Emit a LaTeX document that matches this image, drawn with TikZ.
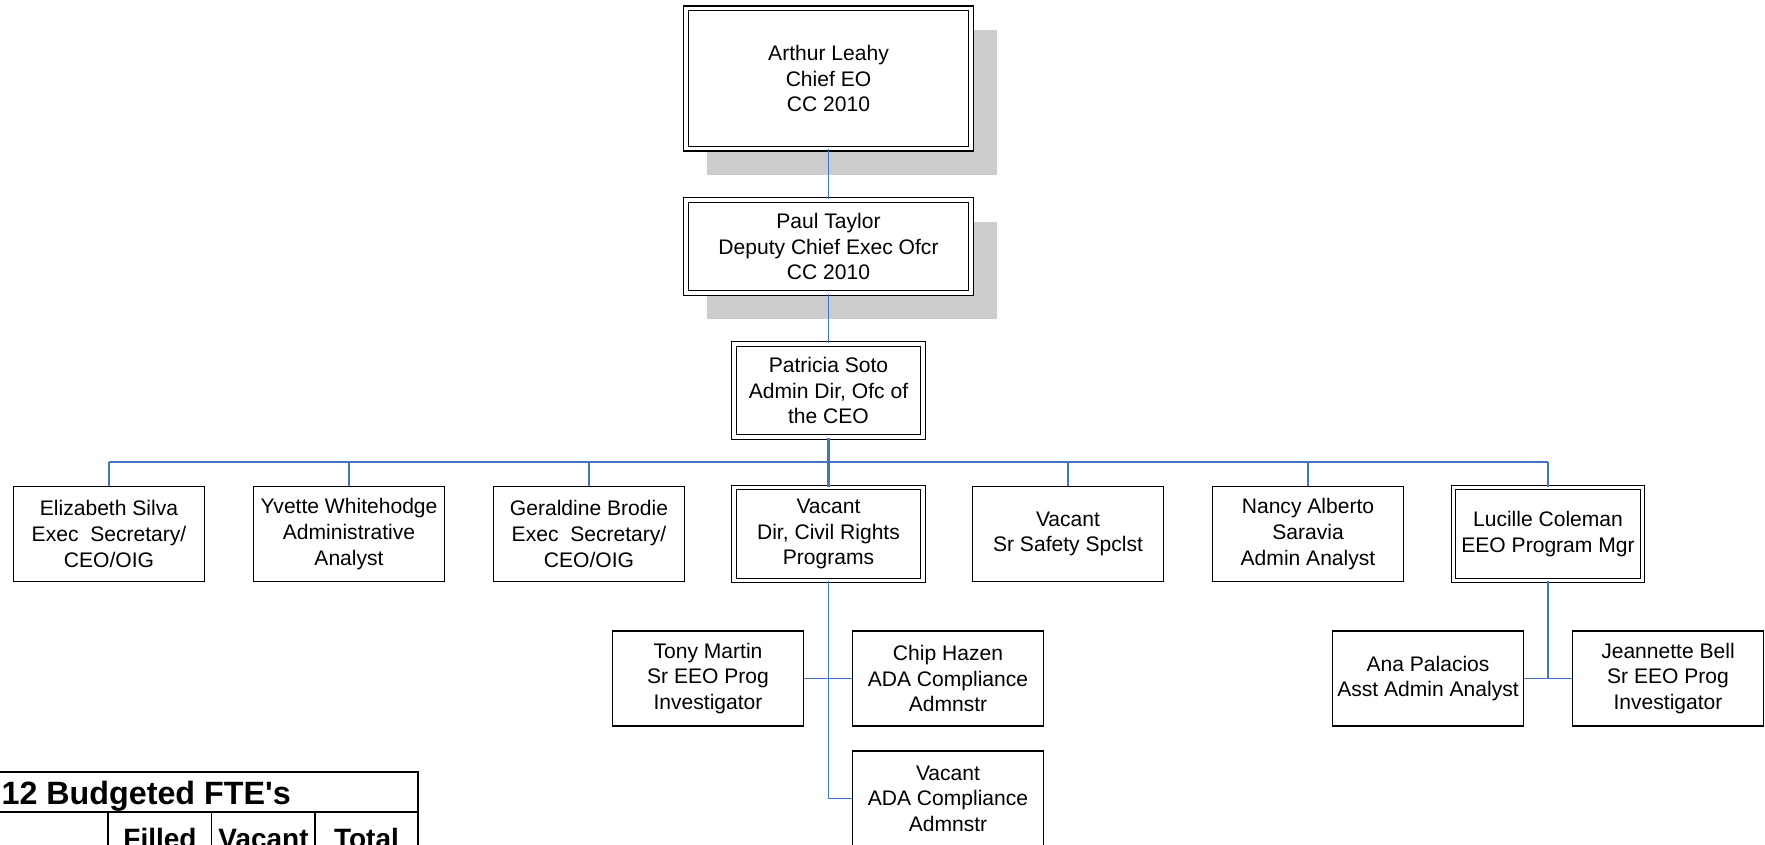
\documentclass[tikz,border=0pt]{standalone}
\usepackage{fontspec}
\setmainfont{Liberation Sans}
\newfontfamily\plainsans{Liberation Sans}
\definecolor{connblue}{RGB}{68,114,196}
\definecolor{shadowgray}{RGB}{204,204,204}
\begin{document}
\begin{tikzpicture}[x=0.75pt,y=-0.75pt,
  box/.style={draw=black, line width=1pt, fill=white, align=center, inner sep=0pt,
    font=\fontsize{15.8}{19.2}\selectfont, minimum width=143.25pt, minimum height=71.25pt},
  dbox/.style={box, double=white, double distance=2.3pt, line width=0.9pt,
    minimum width=141.75pt, minimum height=69.75pt},
  conn/.style={draw=connblue, line width=1pt},
  busline/.style={draw=connblue, line width=1.7pt},
  shadowbox/.style={fill=shadowgray, draw=none},
  tabline/.style={draw=black, line width=1.3pt},
  tabhead/.style={inner sep=0pt, font=\bfseries\fontsize{21}{24}\selectfont},
  tabtitle/.style={inner sep=0pt, font=\plainsans\bfseries\fontsize{24.2}{28}\selectfont}]
\useasboundingbox (0,0) rectangle (1765,845);
% shadows
\fill[shadowbox] (707,30) rectangle (997,175);
\fill[shadowbox] (707,222) rectangle (997,319);
% top chain
\node[dbox, minimum width=213.75pt, minimum height=105.5pt] (arthur) at (828.5,78.5) {Arthur Leahy\\Chief EO\\CC 2010};
\node[dbox, minimum width=213.75pt] (paul) at (828.5,246.5) {Paul Taylor\\Deputy Chief Exec Ofcr\\CC 2010};
\node[dbox] (pat) at (828.5,390.5) {Patricia Soto\\Admin Dir, Ofc of\\the CEO};
% level 2
\node[box] (eliz) at (109,534) {Elizabeth Silva\\Exec\ \ Secretary/\\CEO/OIG};
\node[box] (yvet) at (349,534) {Yvette Whitehodge\\Administrative\\Analyst};
\node[box] (gera) at (589,534) {Geraldine Brodie\\Exec\ \ Secretary/\\CEO/OIG};
\node[dbox] (vdir) at (828.5,534) {Vacant\\Dir, Civil Rights\\Programs};
\node[box] (safe) at (1068,534) {Vacant\\Sr Safety Spclst};
\node[box] (nanc) at (1308,534) {Nancy Alberto\\Saravia\\Admin Analyst};
\node[dbox] (luci) at (1548,534) {Lucille Coleman\\EEO Program Mgr};
% level 3
\node[box] (tony) at (708,678.5) {Tony Martin\\Sr EEO Prog\\Investigator};
\node[box] (chip) at (948,678.5) {Chip Hazen\\ADA Compliance\\Admnstr};
\node[box] (vada) at (948,798.5) {Vacant\\ADA Compliance\\Admnstr};
\node[box] (ana) at (1428,678.5) {Ana Palacios\\Asst Admin Analyst};
\node[box] (jean) at (1668,678.5) {Jeannette Bell\\Sr EEO Prog\\Investigator};
% connectors
\coordinate (bus) at (828.5,462);
\draw[conn] (arthur.south) -- (paul.north);
\draw[conn] (paul.south) -- (pat.north);
\draw[busline] (pat.south) -- (bus);
\draw[busline] (eliz.north |- bus) -- (luci.north |- bus);
\foreach \n in {eliz,yvet,gera,safe,nanc,luci}{
  \draw[conn] (\n.north) -- (\n.north |- bus);
}
\draw[busline] (vdir.north) -- (bus);
\draw[conn] (vdir.south) |- (vada.west);
\draw[conn] (tony.east) -- (chip.west);
\draw[conn] (luci.south) -- (luci.south |- ana.east);
\draw[conn] (ana.east) -- (jean.west);
% table
\draw[tabline] (-5,772) -- (418,772) -- (418,850);
\draw[tabline] (-5,812) -- (418,812);
\draw[tabline] (108,812) -- (108,850);
\draw[tabline] (211.5,812) -- (211.5,850);
\draw[tabline] (315,812) -- (315,850);
\node[tabtitle, anchor=base east] (ttitle) at (291,804) {12 Budgeted FTE's};
\node[tabhead, anchor=base] (hfill) at (160,848) {Filled};
\node[tabhead, anchor=base] (hvac) at (263.5,848) {Vacant};
\node[tabhead, anchor=base] (htot) at (366.5,848) {Total};
\end{tikzpicture}
\end{document}
